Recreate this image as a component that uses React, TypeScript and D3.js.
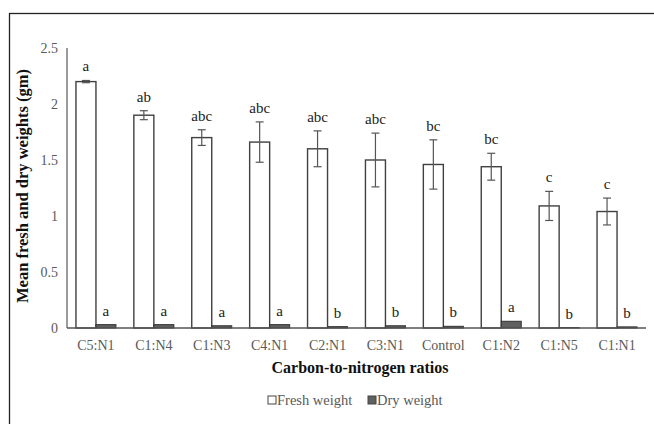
import React, { useEffect, useRef } from "react";
import * as d3 from "d3";

const categories = ["C5:N1", "C1:N4", "C1:N3", "C4:N1", "C2:N1", "C3:N1", "Control", "C1:N2", "C1:N5", "C1:N1"];
const freshWeight = [2.2, 1.9, 1.7, 1.66, 1.6, 1.5, 1.46, 1.44, 1.09, 1.04];
const freshError = [0.01, 0.04, 0.07, 0.18, 0.16, 0.24, 0.22, 0.12, 0.13, 0.12];
const freshLetters = ["a", "ab", "abc", "abc", "abc", "abc", "bc", "bc", "c", "c"];
const dryWeight = [0.03, 0.03, 0.02, 0.03, 0.012, 0.02, 0.015, 0.06, 0.004, 0.01];
const dryLetters = ["a", "a", "a", "a", "b", "b", "b", "a", "b", "b"];
const yTicks = [0, 0.5, 1, 1.5, 2, 2.5];

const W = 654;
const H = 424;

export default function App() {
  const ref = useRef<SVGSVGElement>(null);

  useEffect(() => {
    document.body.style.margin = "0";
    const svg = d3.select(ref.current);
    svg.selectAll("*").remove();

    const font = "'Liberation Serif', 'Times New Roman', serif";
    const left = 67;
    const right = 646;
    const top = 48;
    const bottom = 328;

    // outer frame (right and bottom edges fall outside the picture)
    svg
      .append("rect")
      .attr("x", 9.5)
      .attr("y", 13.5)
      .attr("width", W + 20)
      .attr("height", H + 20)
      .attr("fill", "none")
      .attr("stroke", "#222")
      .attr("stroke-width", 1.3);

    const x = d3.scaleBand().domain(categories).range([left, right]);
    const y = d3.scaleLinear().domain([0, 2.5]).range([bottom, top]);
    const bw = 20;

    // y tick labels
    svg
      .append("g")
      .selectAll("text")
      .data(yTicks)
      .join("text")
      .attr("x", 58)
      .attr("y", (d) => y(d) + 5)
      .attr("text-anchor", "end")
      .attr("font-family", font)
      .attr("font-size", 14)
      .attr("fill", "#595959")
      .text((d) => d);

    const g = svg.append("g");

    // fresh bars
    g.selectAll("rect.fresh")
      .data(freshWeight)
      .join("rect")
      .attr("class", "fresh")
      .attr("x", (_, i) => x(categories[i])! + x.bandwidth() / 2 - bw)
      .attr("y", (d) => y(d))
      .attr("width", bw)
      .attr("height", (d) => y(0) - y(d))
      .attr("fill", "#fff")
      .attr("stroke", "#404040")
      .attr("stroke-width", 1.4);

    // dry bars
    g.selectAll("rect.dry")
      .data(dryWeight)
      .join("rect")
      .attr("class", "dry")
      .attr("x", (_, i) => x(categories[i])! + x.bandwidth() / 2)
      .attr("y", (d) => y(d))
      .attr("width", bw)
      .attr("height", (d) => y(0) - y(d))
      .attr("fill", "#606060")
      .attr("stroke", "#333")
      .attr("stroke-width", 1);

    // error bars
    const eb = g.selectAll("g.err").data(freshWeight).join("g").attr("class", "err");
    const cx = (i: number) => x(categories[i])! + x.bandwidth() / 2 - bw / 2;
    eb.append("line")
      .attr("x1", (_, i) => cx(i))
      .attr("x2", (_, i) => cx(i))
      .attr("y1", (d, i) => y(d + freshError[i]))
      .attr("y2", (d, i) => y(d - freshError[i]))
      .attr("stroke", "#555")
      .attr("stroke-width", 1.2);
    [1, -1].forEach((s) => {
      eb.append("line")
        .attr("x1", (_, i) => cx(i) - 4)
        .attr("x2", (_, i) => cx(i) + 4)
        .attr("y1", (d, i) => y(d + s * freshError[i]))
        .attr("y2", (d, i) => y(d + s * freshError[i]))
        .attr("stroke", "#555")
        .attr("stroke-width", 1.2);
    });

    // letters
    g.selectAll("text.fl")
      .data(freshLetters)
      .join("text")
      .attr("class", "fl")
      .attr("x", (_, i) => cx(i))
      .attr("y", (_, i) => y(freshWeight[i] + freshError[i]) - 9)
      .attr("text-anchor", "middle")
      .attr("font-family", font)
      .attr("font-size", 15)
      .attr("fill", "#222")
      .text((d) => d);

    g.selectAll("text.dl")
      .data(dryLetters)
      .join("text")
      .attr("class", "dl")
      .attr("x", (_, i) => cx(i) + bw)
      .attr("y", (_, i) => y(dryWeight[i]) - 9)
      .attr("text-anchor", "middle")
      .attr("font-family", font)
      .attr("font-size", 15)
      .attr("fill", "#222")
      .text((d) => d);

    // axes lines
    svg
      .append("line")
      .attr("x1", left)
      .attr("x2", left)
      .attr("y1", top)
      .attr("y2", bottom)
      .attr("stroke", "#666")
      .attr("stroke-width", 1.3);
    svg
      .append("line")
      .attr("x1", left)
      .attr("x2", right)
      .attr("y1", bottom)
      .attr("y2", bottom)
      .attr("stroke", "#555")
      .attr("stroke-width", 1.4);

    // x tick labels
    svg
      .append("g")
      .selectAll("text")
      .data(categories)
      .join("text")
      .attr("x", (d) => x(d)! + x.bandwidth() / 2)
      .attr("y", 350)
      .attr("text-anchor", "middle")
      .attr("font-family", font)
      .attr("font-size", 14)
      .attr("fill", "#595959")
      .text((d) => d);

    // axis titles
    svg
      .append("text")
      .attr("x", 360)
      .attr("y", 373)
      .attr("text-anchor", "middle")
      .attr("font-family", font)
      .attr("font-size", 16)
      .attr("font-weight", "bold")
      .attr("fill", "#111")
      .text("Carbon-to-nitrogen ratios");

    svg
      .append("text")
      .attr("transform", "translate(28,186) rotate(-90)")
      .attr("text-anchor", "middle")
      .attr("font-family", font)
      .attr("font-size", 16.5)
      .attr("font-weight", "bold")
      .attr("fill", "#111")
      .text("Mean fresh and dry weights (gm)");

    // legend
    const legend = [
      { label: "Fresh weight", fill: "#fff", x: 268 },
      { label: "Dry weight", fill: "#606060", x: 368 },
    ];
    const lg = svg.append("g").selectAll("g").data(legend).join("g");
    lg.append("rect")
      .attr("x", (d) => d.x)
      .attr("y", 396)
      .attr("width", 8)
      .attr("height", 8)
      .attr("fill", (d) => d.fill)
      .attr("stroke", "#444")
      .attr("stroke-width", 1);
    lg.append("text")
      .attr("x", (d) => d.x + 9)
      .attr("y", 405)
      .attr("font-family", font)
      .attr("font-size", 14.5)
      .attr("fill", "#595959")
      .text((d) => d.label);
  }, []);

  return <svg ref={ref} width={W} height={H} style={{ display: "block" }} />;
}
